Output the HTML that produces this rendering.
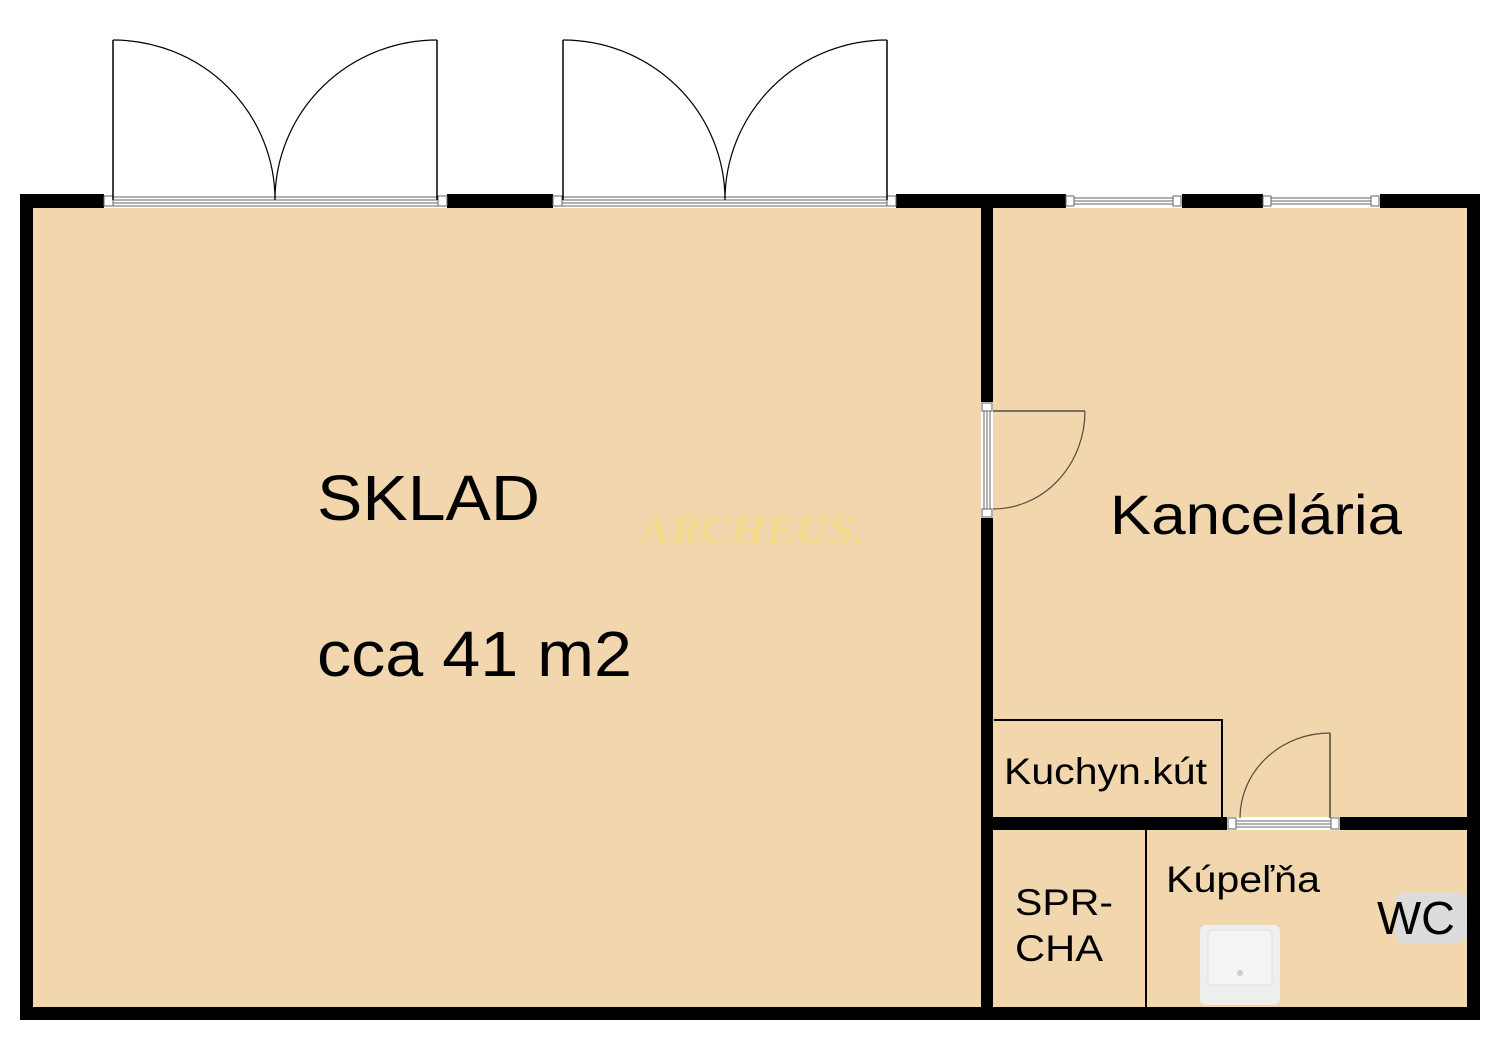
<!DOCTYPE html>
<html><head><meta charset="utf-8"><style>
html,body{margin:0;padding:0;background:#fff;}
svg{display:block;}
text{font-family:"Liberation Sans",sans-serif;fill:#000;}
</style></head><body>
<svg width="1500" height="1060" viewBox="0 0 1500 1060" xmlns="http://www.w3.org/2000/svg">
<rect x="0" y="0" width="1500" height="1060" fill="#fff"/>
<rect x="20" y="194" width="1460" height="826" fill="#000"/>
<rect x="33" y="208" width="1434" height="799" fill="#f1d6ae"/>
<rect x="981" y="208" width="12" height="799" fill="#000"/>
<rect x="993" y="817" width="474" height="13" fill="#000"/>
<polyline points="994,720 1222,720 1222,817" fill="none" stroke="#000" stroke-width="2"/>
<line x1="1146" y1="830" x2="1146" y2="1020" stroke="#000" stroke-width="2"/>

<g>
<rect x="104" y="194" width="343" height="14" fill="#fff"/>
<rect x="104" y="196" width="9" height="10" fill="#fff" stroke="#666" stroke-width="1"/>
<rect x="438" y="196" width="9" height="10" fill="#fff" stroke="#666" stroke-width="1"/>
<line x1="113" y1="197" x2="438" y2="197" stroke="#666" stroke-width="1"/>
<line x1="113" y1="200" x2="438" y2="200" stroke="#666" stroke-width="1"/>
<line x1="113" y1="203" x2="438" y2="203" stroke="#666" stroke-width="1"/>
<line x1="113" y1="206" x2="438" y2="206" stroke="#666" stroke-width="1"/>
<line x1="113" y1="40" x2="113" y2="200" stroke="#000" stroke-width="1.5"/>
<line x1="437" y1="40" x2="437" y2="200" stroke="#000" stroke-width="1.5"/>
<path d="M113,40 A162,160 0 0 1 275,200" fill="none" stroke="#000" stroke-width="1.2"/>
<path d="M437,40 A162,160 0 0 0 275,200" fill="none" stroke="#000" stroke-width="1.2"/>
</g>
<g>
<rect x="553" y="194" width="343" height="14" fill="#fff"/>
<rect x="553" y="196" width="9" height="10" fill="#fff" stroke="#666" stroke-width="1"/>
<rect x="887" y="196" width="9" height="10" fill="#fff" stroke="#666" stroke-width="1"/>
<line x1="562" y1="197" x2="887" y2="197" stroke="#666" stroke-width="1"/>
<line x1="562" y1="200" x2="887" y2="200" stroke="#666" stroke-width="1"/>
<line x1="562" y1="203" x2="887" y2="203" stroke="#666" stroke-width="1"/>
<line x1="562" y1="206" x2="887" y2="206" stroke="#666" stroke-width="1"/>
<line x1="563" y1="40" x2="563" y2="200" stroke="#000" stroke-width="1.5"/>
<line x1="887" y1="40" x2="887" y2="200" stroke="#000" stroke-width="1.5"/>
<path d="M563,40 A162,160 0 0 1 725,200" fill="none" stroke="#000" stroke-width="1.2"/>
<path d="M887,40 A162,160 0 0 0 725,200" fill="none" stroke="#000" stroke-width="1.2"/>
</g>
<g stroke="#666" stroke-width="1">
<rect x="1066" y="194" width="116" height="14" fill="#fff" stroke="none"/>
<rect x="1066" y="196" width="8" height="10" fill="#fff"/>
<rect x="1173" y="196" width="8" height="10" fill="#fff"/>
<line x1="1074" y1="198" x2="1173" y2="198"/><line x1="1074" y1="201" x2="1173" y2="201"/><line x1="1074" y1="204" x2="1173" y2="204"/>
<rect x="1263" y="194" width="117" height="14" fill="#fff" stroke="none"/>
<rect x="1263" y="196" width="8" height="10" fill="#fff"/>
<rect x="1371" y="196" width="8" height="10" fill="#fff"/>
<line x1="1271" y1="198" x2="1371" y2="198"/><line x1="1271" y1="201" x2="1371" y2="201"/><line x1="1271" y1="204" x2="1371" y2="204"/>
</g>
<g stroke="#666" stroke-width="1">
<rect x="981" y="402" width="12" height="116" fill="#fff" stroke="none"/>
<rect x="982" y="403" width="10" height="8" fill="#fff"/>
<rect x="982" y="509" width="10" height="8" fill="#fff"/>
<line x1="984" y1="411" x2="984" y2="509"/><line x1="987" y1="411" x2="987" y2="509"/><line x1="990" y1="411" x2="990" y2="509"/>
</g>
<line x1="993" y1="411" x2="1085" y2="411" stroke="#333" stroke-width="1.3"/>
<path d="M1085,411 A92,98 0 0 1 993,509" fill="none" stroke="#5a4a3a" stroke-width="1.2"/>
<g stroke="#666" stroke-width="1">
<rect x="1227" y="817" width="113" height="13" fill="#fff" stroke="none"/>
<rect x="1228" y="818" width="8" height="11" fill="#fff"/>
<rect x="1331" y="818" width="8" height="11" fill="#fff"/>
<line x1="1236" y1="821" x2="1331" y2="821"/><line x1="1236" y1="824" x2="1331" y2="824"/><line x1="1236" y1="827" x2="1331" y2="827"/>
</g>
<line x1="1330" y1="733" x2="1330" y2="818" stroke="#333" stroke-width="1.3"/>
<path d="M1330,733 A90,85 0 0 0 1240,818" fill="none" stroke="#5a4a3a" stroke-width="1.2"/>
<rect x="1395" y="893" width="72" height="50" rx="10" fill="#dcdcdc"/>
<rect x="1200" y="925" width="80" height="80" rx="6" fill="#eeeeee"/>
<rect x="1208" y="930" width="64" height="55" rx="4" fill="#f4f4f4" stroke="#e0e0e0"/>
<circle cx="1240" cy="973" r="3" fill="#ccc"/>
<text x="640" y="544" textLength="225" lengthAdjust="spacingAndGlyphs" style="font-family:'Liberation Serif',serif;font-style:italic;font-weight:bold;font-size:42px;fill:#f5da8e">ARCHEUS.</text>
<text x="317" y="520" font-size="64" textLength="223" lengthAdjust="spacingAndGlyphs">SKLAD</text>
<text x="317" y="676" font-size="64" textLength="315" lengthAdjust="spacingAndGlyphs">cca 41 m2</text>
<text x="1110" y="534" font-size="56" textLength="292" lengthAdjust="spacingAndGlyphs">Kancelária</text>
<text x="1004" y="784" font-size="37" textLength="203" lengthAdjust="spacingAndGlyphs">Kuchyn.kút</text>
<text x="1166" y="892" font-size="37" textLength="154" lengthAdjust="spacingAndGlyphs">Kúpeľňa</text>
<text x="1015" y="915" font-size="37" textLength="98" lengthAdjust="spacingAndGlyphs">SPR-</text>
<text x="1015" y="961" font-size="37" textLength="88" lengthAdjust="spacingAndGlyphs">CHA</text>
<text x="1377" y="934" font-size="46" textLength="78" lengthAdjust="spacingAndGlyphs">WC</text>
</svg>
</body></html>
